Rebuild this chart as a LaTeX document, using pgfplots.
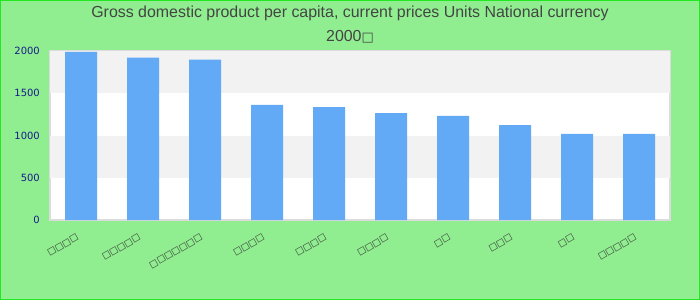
\documentclass[border=0pt]{standalone}
\usepackage{pgfplots}
\pgfplotsset{compat=1.18}
\usepackage{fontspec}
\setmainfont{Liberation Sans}
\newfontfamily\dejavu{DejaVu Sans}
\definecolor{bg}{HTML}{90EE90}
\definecolor{frame}{HTML}{22E822}
\definecolor{barblue}{HTML}{62AAF5}
\definecolor{band}{HTML}{F2F2F2}
\definecolor{titlegray}{HTML}{444444}
\definecolor{ticknavy}{HTML}{1A1A8A}
\definecolor{plotborder}{HTML}{DCDCDC}
\begin{document}
\begin{tikzpicture}[x=1bp,y=1bp]
\fill[bg] (0,0) rectangle (700,300);
\draw[frame, line width=1bp] (0.5,0.5) rectangle (699.5,299.5);
\node[font=\fontsize{16}{19}\selectfont, text=titlegray] at (350,287) {Gross domestic product per capita, current prices Units National currency};
\node[font=\fontsize{16}{19}\selectfont, text=titlegray] at (350,263) {2000{\dejavu\fontsize{13}{15}\selectfont □}};
\begin{axis}[
  at={(50bp,80bp)}, anchor=south west,
  scale only axis, width=620bp, height=169bp,
  xmin=-0.5, xmax=9.5, ymin=0, ymax=2000,
  ybar, bar width=32bp,
  axis background/.style={fill=white},
  axis line style={draw=plotborder, line width=1.2bp},
  major tick length=0pt,
  ytick={0,500,1000,1500,2000},
  xtick={0,1,2,3,4,5,6,7,8,9},
  xticklabels={□□□□,□□□□□,□□□□□□□,□□□□,□□□□,□□□□,□□,□□□,□□,□□□□□},
  /pgf/number format/1000 sep={},
  /pgf/number format/assume math mode=true,
  yticklabel style={font=\dejavu\fontsize{10}{12}\selectfont, text=ticknavy, anchor=east, inner sep=0pt, xshift=-10bp},
  xticklabel style={font=\dejavu\fontsize{9}{11}\selectfont, text=black!80, rotate=30, anchor=north east, inner sep=0pt, xshift=-11bp, yshift=-9bp},
]
\fill[band] (axis cs:-0.5,1500) rectangle (axis cs:9.5,2000);
\fill[band] (axis cs:-0.5,500) rectangle (axis cs:9.5,1000);
\addplot[fill=barblue, draw=none] coordinates {
(0,1990) (1,1921) (2,1897) (3,1361) (4,1337) (5,1266) (6,1231) (7,1124) (8,1018) (9,1018)};
\end{axis}
\pgfresetboundingbox
\useasboundingbox (0,0) rectangle (700,300);
\end{tikzpicture}
\end{document}
